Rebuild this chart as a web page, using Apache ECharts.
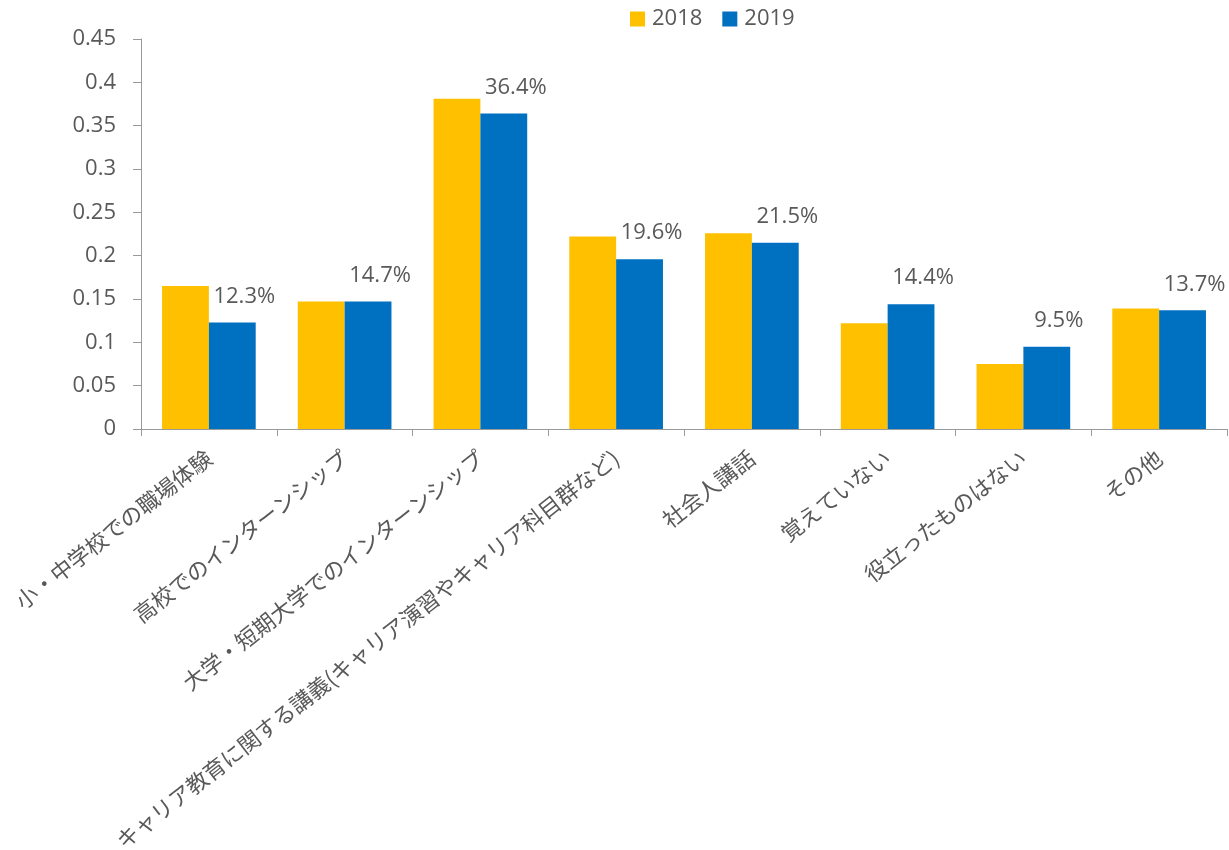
<!DOCTYPE html>
<html>
<head>
<meta charset="utf-8">
<script src="https://cdn.jsdelivr.net/npm/echarts@6/dist/echarts.min.js"></script>
<style>
  html, body { margin: 0; padding: 0; background: #fff; }
  #chart { width: 1229px; height: 850px; }
</style>
</head>
<body>
<div id="chart"></div>
<script>
// Categories along the x axis
const categories = [
  '小・中学校での職場体験',
  '高校でのインターンシップ',
  '大学・短期大学でのインターンシップ',
  'キャリア教育に関する講義(キャリア演習やキャリア科目群など)',
  '社会人講話',
  '覚えていない',
  '役立ったものはない',
  'その他'
];
// Share of respondents per year
const values2018 = [0.165, 0.147, 0.381, 0.222, 0.226, 0.122, 0.075, 0.139];
const values2019 = [0.123, 0.147, 0.364, 0.196, 0.215, 0.144, 0.095, 0.137];
const seriesNames = ['2018', '2019'];
const yTicks = { min: 0, max: 0.45, interval: 0.05 };

const textColor = '#595959';
const axisColor = '#9A9A9A';
const font = '"Open Sans", "Noto Sans CJK JP", sans-serif';
const jpFont = '"Noto Sans CJK JP", "Open Sans", sans-serif';

const chart = echarts.init(document.getElementById('chart'), null, { renderer: 'canvas' });
chart.setOption({
  animation: false,
  textStyle: { fontFamily: font, color: textColor },
  legend: {
    data: seriesNames,
    top: 8,
    left: 630,
    padding: 0,
    itemWidth: 15,
    itemHeight: 15,
    itemGap: 20,
    icon: 'rect',
    textStyle: { fontSize: 22, color: textColor, fontFamily: font, padding: [0, 0, 0, 2] }
  },
  grid: { left: 141, right: 2, top: 39, bottom: 421, containLabel: false, outerBoundsMode: 'none' },
  xAxis: {
    type: 'category',
    data: categories,
    axisLine: { lineStyle: { color: axisColor, width: 1 } },
    axisTick: { show: true, length: 7, alignWithLabel: false, lineStyle: { color: axisColor } },
    axisLabel: {
      interval: 0,
      rotate: 38,
      margin: 26,
      fontSize: 22,
      color: textColor,
      fontFamily: jpFont
    }
  },
  yAxis: {
    type: 'value',
    min: yTicks.min,
    max: yTicks.max,
    interval: yTicks.interval,
    splitLine: { show: false },
    axisLine: { show: true, lineStyle: { color: axisColor, width: 1 } },
    axisTick: { show: true, length: 8, lineStyle: { color: axisColor } },
    axisLabel: {
      fontSize: 22,
      color: textColor,
      margin: 25,
      fontFamily: font,
      formatter: v => String(parseFloat(v.toFixed(2)))
    }
  },
  series: [
    {
      name: seriesNames[0],
      type: 'bar',
      data: values2018,
      barGap: '0%',
      barCategoryGap: '31%',
      itemStyle: { color: '#FFC000' }
    },
    {
      name: seriesNames[1],
      type: 'bar',
      data: values2019,
      barGap: '0%',
      barCategoryGap: '31%',
      itemStyle: { color: '#0070C0' },
      label: {
        show: true,
        position: 'top',
        distance: 15,
        offset: [12, 0],
        fontSize: 22,
        color: textColor,
        fontFamily: font,
        formatter: p => (p.value * 100).toFixed(1) + '%'
      }
    }
  ]
});
</script>
</body>
</html>
